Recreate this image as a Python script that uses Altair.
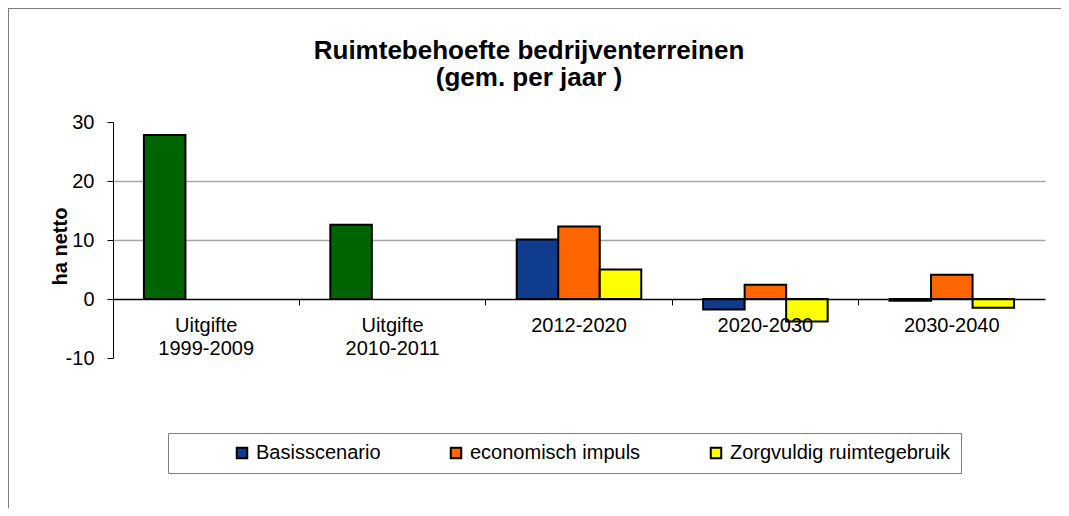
import altair as alt
import pandas as pd

# ---- data ----
categories = ["Uitgifte\n1999-2009", "Uitgifte\n2010-2011", "2012-2020", "2020-2030", "2030-2040"]
series_names = ["Basisscenario", "economisch impuls", "Zorgvuldig ruimtegebruik"]
uitgifte_name = "Uitgifte"
uitgifte_values = [27.8, 12.6]
basis_values = [10.1, -1.8, -0.3]
economisch_values = [12.3, 2.4, 4.1]
zorgvuldig_values = [5.0, -3.8, -1.5]
y_ticks = [-10, 0, 10, 20, 30]

rows = []
for cat, v in zip(categories[:2], uitgifte_values):
    rows.append({"cat": cat, "series": uitgifte_name, "slot": series_names[0], "value": v})
for name, vals in zip(series_names, [basis_values, economisch_values, zorgvuldig_values]):
    for cat, v in zip(categories[2:], vals):
        rows.append({"cat": cat, "series": name, "slot": name, "value": v})
df = pd.DataFrame(rows)

W, H = 932, 236
FONT = "Liberation Sans"
zero_offset = -H * (0 - y_ticks[0]) / (y_ticks[-1] - y_ticks[0])

bars = alt.Chart(df).mark_bar(stroke="black", strokeWidth=2).encode(
    x=alt.X(
        "cat:N",
        sort=categories,
        scale=alt.Scale(domain=categories, paddingInner=0, paddingOuter=0),
        axis=alt.Axis(
            title=None,
            orient="bottom",
            offset=zero_offset,
            domainColor="black",
            domainWidth=1.5,
            tickColor="black",
            tickSize=6,
            tickWidth=1,
            bandPosition=0,
            labelPadding=10,
            labelFontSize=20,
            labelLineHeight=23,
            labelColor="black",
            labelFont=FONT,
            labelAngle=0,
            labelExpr="split(datum.label, '\\n')",
            zindex=1,
        ),
    ),
    xOffset=alt.XOffset(
        "slot:N",
        scale=alt.Scale(domain=series_names, paddingInner=0, paddingOuter=0.745),
    ),
    y=alt.Y(
        "value:Q",
        scale=alt.Scale(domain=[y_ticks[0], y_ticks[-1]], nice=False, zero=False),
        axis=alt.Axis(
            title="ha netto",
            values=y_ticks,
            labelExpr="'' + datum.value",
            domainColor="black",
            domainWidth=1,
            tickColor="black",
            tickSize=6,
            labelFontSize=20,
            labelPadding=13,
            labelColor="black",
            labelFont=FONT,
            titleFont=FONT,
            titleFontSize=20,
            titleFontWeight="bold",
            titleColor="black",
            titleX=-53,
            titleY=H / 2 + 6,
            titleAngle=270,
            titleAlign="center",
            titleBaseline="middle",
            grid=True,
            gridWidth=1.5,
            gridColor={"condition": {"test": "datum.value == 10 || datum.value == 20", "value": "#A6A6A6"}, "value": "rgba(0,0,0,0)"},
        ),
    ),
    color=alt.Color(
        "series:N",
        scale=alt.Scale(
            domain=series_names + [uitgifte_name],
            range=["#0F3C8C", "#FF6600", "#FFFF00", "#006400"],
        ),
        legend=alt.Legend(
            title="\u00a0",
            titleOrient="left",
            titleFontSize=20,
            titlePadding=54,
            values=series_names,
            orient="none",
            legendX=55,
            legendY=311,
            direction="horizontal",
            columnPadding=65,
            symbolType="square",
            symbolSize=110,
            symbolStrokeColor="black",
            symbolStrokeWidth=2,
            labelFontSize=20,
            labelFont=FONT,
            labelColor="black",
            labelOffset=4,
            labelLimit=400,
            padding=10,
            strokeColor="#808080",
            fillColor="white",
        ),
    ),
)

frame_df = pd.DataFrame({"a": [0]})
frame_left = alt.Chart(frame_df).mark_rule(color="#7F7F7F", strokeWidth=1).encode(
    x=alt.value(-104.5), y=alt.value(-114), y2=alt.value(H + 150)
)
frame_top = alt.Chart(frame_df).mark_rule(color="#7F7F7F", strokeWidth=1).encode(
    x=alt.value(-105), x2=alt.value(W + 16), y=alt.value(-113.5)
)

chart = alt.layer(frame_left, frame_top, bars).properties(
    width=W,
    height=H,
    background="white",
    title=alt.TitleParams(
        text=["Ruimtebehoefte bedrijventerreinen", "(gem. per jaar )"],
        font=FONT,
        fontSize=26,
        fontWeight="bold",
        color="black",
        lineHeight=27,
        anchor="middle",
        frame="group",
        dx=-50,
        dy=87,
    ),
    autosize=alt.AutoSizeParams(type="none"),
    padding={"left": 105, "top": 114, "right": 16, "bottom": 150},
).configure_view(strokeWidth=0, stroke=None)

chart.save("out.html", embed_options={"renderer": "svg", "actions": False})
